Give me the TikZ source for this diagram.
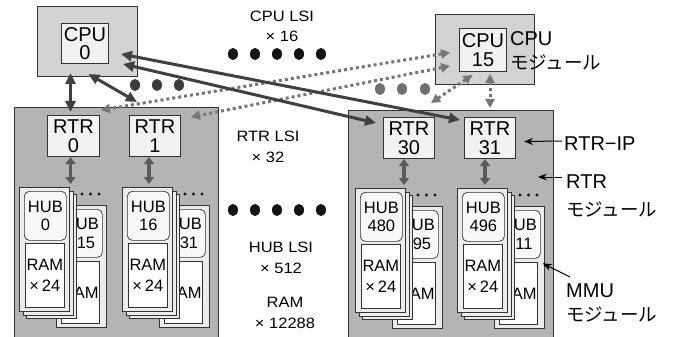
\documentclass[tikz,border=0pt]{standalone}
\usepackage{fontspec}
\setmainfont{Liberation Sans}
\newfontfamily\jpfont{Noto Sans CJK JP}
\newfontfamily\widesans[FakeStretch=1.1]{Liberation Sans}
\usetikzlibrary{arrows.meta,calc}
\definecolor{cpumodfill}{HTML}{D3D3D3}
\definecolor{rtrmodfill}{HTML}{B4B4B4}
\definecolor{boxfill}{HTML}{F2F2F2}
\definecolor{cardfill}{HTML}{ECECEC}
\definecolor{hubfill}{HTML}{F8F8F8}
\definecolor{edgecol}{HTML}{333333}
\definecolor{darkarrow}{HTML}{404040}
\definecolor{dotarrow}{HTML}{757575}
\definecolor{hubarrow}{HTML}{5A5A5A}
\definecolor{darkdot}{HTML}{3C3C3C}
\definecolor{graydot}{HTML}{707070}
\definecolor{blackdot}{HTML}{141414}
\tikzset{
  cpumodule/.style={draw=edgecol,line width=1pt,fill=cpumodfill,anchor=north west,inner sep=0pt},
  rtrmodule/.style={draw=edgecol,line width=1pt,fill=rtrmodfill,anchor=north west,inner sep=0pt},
  chipbox/.style={draw=edgecol,line width=1pt,fill=boxfill,anchor=north west,inner sep=0pt,align=center,
    font=\fontsize{20pt}{18.5pt}\selectfont},
  card/.style={draw=edgecol,line width=0.7pt,fill=cardfill,anchor=north west,inner sep=0pt},
  hubbox/.style={draw=edgecol,line width=0.7pt,fill=hubfill,rounded corners=5pt,anchor=north west,inner sep=0pt,
    align=center,font=\fontsize{16.5pt}{18.5pt}\selectfont},
  rambox/.style={draw=edgecol,line width=0.7pt,fill=white,anchor=north west,inner sep=0pt,
    align=center,font=\fontsize{16.5pt}{21pt}\selectfont},
  lbl/.style={inner sep=0pt,align=center,font=\widesans\fontsize{15pt}{20.5pt}\selectfont},
  sidelbl/.style={inner sep=0pt,align=left,anchor=base west},
  bigarr/.style={darkarrow,line width=3pt,
    {Triangle[length=11pt,width=10pt]}-{Triangle[length=11pt,width=10pt]}},
  dotarr/.style={dotarrow,line width=3pt,dash pattern=on 3pt off 3pt,
    {Triangle[length=9pt,width=9pt]}-{Triangle[length=9pt,width=9pt]}},
  hubarr/.style={hubarrow,line width=3.5pt,
    {Triangle[length=7pt,width=10pt]}-{Triangle[length=7pt,width=10pt]}},
  thinarr/.style={black,line width=1pt,-{Stealth[length=9pt,width=7pt]}},
  pics/hubstack/.style 2 args={code={
    \node[card,minimum width=50pt,minimum height=122pt] (-bcard) at (37,18) {};
    \node[hubbox,minimum width=42pt,minimum height=48pt] (-bhub) at (41,22) {HUB\\#2};
    \node[rambox,minimum width=38pt,minimum height=62pt] (-bram) at (42,74) {RAM};
    \fill[blackdot] (63,7) circle[radius=1.6pt] (71.5,7) circle[radius=1.6pt] (80,7) circle[radius=1.6pt];
    \node[card,minimum width=50pt,minimum height=124pt] (-c3) at (7,7) {};
    \node[card,minimum width=50pt,minimum height=124pt] (-c2) at (3.5,3.5) {};
    \node[card,minimum width=50pt,minimum height=124pt] (-card) at (0,0) {};
    \node[hubbox,minimum width=42pt,minimum height=49pt] (-hub) at (5,4) {HUB\\#1};
    \node[rambox,minimum width=39pt,minimum height=64pt] (-ram) at (6,56) {RAM\\×\kern3pt24};
  }}
}
\begin{document}
\begin{tikzpicture}[x=1pt,y=-1pt]
\useasboundingbox (0,0) rectangle (678,337);
\fill[white] (0,0) rectangle (678,337);

% modules
\node[cpumodule,minimum width=100pt,minimum height=70pt] (cpum0) at (37,6) {};
\node[chipbox,minimum width=47pt,minimum height=40pt] (cpu0) at (61,23) {CPU\\0};
\node[cpumodule,minimum width=99pt,minimum height=70pt] (cpum15) at (435,14) {};
\node[chipbox,minimum width=47pt,minimum height=43pt] (cpu15) at (459,28) {CPU\\15};

\node[rtrmodule,minimum width=204pt,minimum height=240pt] (rtrmL) at (14,107) {};
\node[rtrmodule,minimum width=205pt,minimum height=240pt] (rtrmR) at (348,110) {};

\node[chipbox,minimum width=52pt,minimum height=41pt] (r0) at (47,115) {RTR\\0};
\node[chipbox,minimum width=51pt,minimum height=41pt] (r1) at (129,115) {RTR\\1};
\node[chipbox,minimum width=51pt,minimum height=41pt] (r30) at (383,117) {RTR\\30};
\node[chipbox,minimum width=51pt,minimum height=41pt] (r31) at (464,117) {RTR\\31};

% HUB stacks
\pic (s0) at (19,187) {hubstack={0}{\phantom{0}15}};
\pic (s16) at (122,187) {hubstack={16}{\phantom{0}31}};
\pic (s480) at (355,188) {hubstack={480}{495}};
\pic (s496) at (457,188) {hubstack={496}{511}};

% RTR <-> HUB arrows
\coordinate (h0) at ([xshift=-3pt]r0.south);
\coordinate (h1) at ([xshift=-6pt]r1.south);
\coordinate (h30) at ([xshift=-5pt]r30.south);
\coordinate (h31) at ([xshift=-5pt]r31.south);
\draw[hubarr,shorten >=3pt] (h0) -- (h0 |- s0-card.north);
\draw[hubarr,shorten >=3pt] (h1) -- (h1 |- s16-card.north);
\draw[hubarr,shorten >=3pt] (h30) -- (h30 |- s480-card.north);
\draw[hubarr,shorten >=3pt] (h31) -- (h31 |- s496-card.north);

% dots
\foreach \xx in {233,255,277,299,321}{
  \fill[blackdot] (\xx,54) ellipse[x radius=5pt,y radius=6pt];
  \fill[blackdot] (\xx,210) ellipse[x radius=5pt,y radius=6pt];
}
\foreach \xx in {135,157,179}{\fill[darkdot] (\xx,85) ellipse[x radius=5pt,y radius=6pt];}
\foreach \xx in {380,402,425}{\fill[graydot] (\xx,89) ellipse[x radius=5pt,y radius=6pt];}

% dotted CPU15 connections
\draw[dotarr] ($(cpu15.west)+(-9,2.5)$) -- ($(r0.north east)+(1,-5)$);
\draw[dotarr] ($(cpu15.south west)+(-9,-6)$) -- ($(r1.north east)+(10,2)$);
\draw[dotarr] ($(cpu15.south)+(-10.5,3)$) -- ($(r30.north east)+(-4,-14)$);
\draw[dotarr,shorten <=2pt,shorten >=9pt] (r31.north |- cpu15.south) -- (r31.north);

% solid CPU0 connections
\coordinate (v0) at ([xshift=-3pt]r0.north);
\draw[bigarr,shorten <=3pt,shorten >=-4pt] (v0) -- (v0 |- cpum0.south);
\draw[bigarr] ($(cpum0.south)+(1,-3)$) -- ($(r1.north west)+(8,-13)$);
\draw[bigarr] ($(cpu0.south east)+(12,-10)$) -- ($(r31.north west)+(-4,3)$);
\draw[bigarr] ($(cpu0.south east)+(14,0)$) -- ($(r30.north west)+(-7,6)$);

% middle labels (base anchor = last line's baseline)
\node[lbl,anchor=base] (cpulsi) at (282,42) {CPU LSI\\× 16};
\node[lbl,anchor=base] (rtrlsi) at (268,162) {RTR LSI\\× 32};
\node[lbl,anchor=base] (hublsi) at (281,273) {HUB LSI\\× 512};
\node[lbl,anchor=base] (ramlsi) at (285,328) {RAM\\× 12288};

% side labels
\node[sidelbl,font=\fontsize{20pt}{24pt}\selectfont] (cpulbl) at (510,70) {CPU\\{\jpfont\fontsize{18.5pt}{24pt}\selectfont モジュール}};
\node[sidelbl,font=\fontsize{20pt}{24pt}\selectfont] (iplbl) at (564,150) {RTR−IP};
\node[sidelbl,font=\fontsize{20pt}{28pt}\selectfont] (rtrlbl) at (566,216) {RTR\\{\jpfont\fontsize{18.5pt}{28pt}\selectfont モジュール}};
\node[sidelbl,font=\fontsize{20pt}{24pt}\selectfont] (mmulbl) at (566,321) {MMU\\{\jpfont\fontsize{18.5pt}{24pt}\selectfont モジュール}};

\draw[thinarr] ($(iplbl.base west)+(-2,-9)$) -- ($(r31.east)+(8,3.5)$);
\draw[thinarr] ($(rtrlbl.base west)+(-4,-39)$) -- ($(rtrmR.north east)+(-16,67)$);
\draw[thinarr] ($(mmulbl.base west)+(4,-44)$) -- ($(s496-bcard.east)+(-2,-4)$);
\end{tikzpicture}
\end{document}
